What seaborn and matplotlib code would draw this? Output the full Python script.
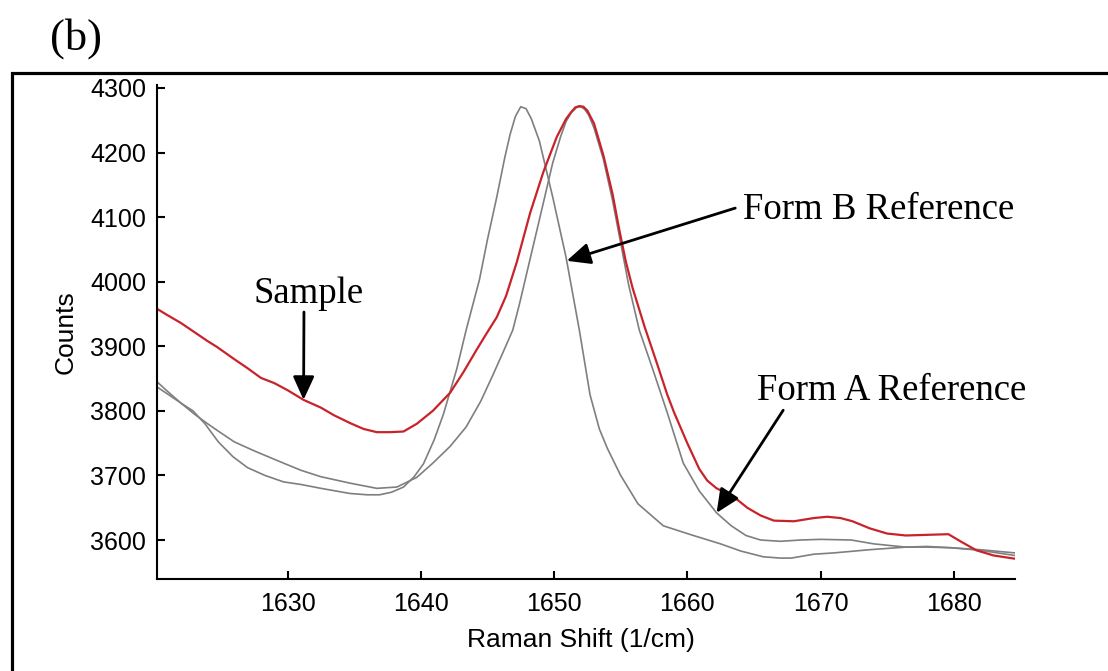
import numpy as np
import pandas as pd
import matplotlib
matplotlib.use("Agg")
import matplotlib.pyplot as plt
from matplotlib.patches import Rectangle
import seaborn as sns

# Raman spectra in the amide/C=O region (shift in 1/cm, intensity in counts)
sample_shift = [1620.2, 1621.0, 1622.0, 1623.0, 1624.0, 1624.7, 1626.0, 1627.0, 1628.0, 1629.0,
                1630.0, 1631.2, 1632.5, 1633.5, 1634.7, 1635.7, 1636.7, 1637.7, 1638.7, 1639.7,
                1640.9, 1642.2, 1643.2, 1644.2, 1645.0, 1645.7, 1646.4, 1647.2, 1648.2, 1649.2,
                1650.2, 1650.9, 1651.3, 1651.6, 1651.9, 1652.2, 1652.5, 1653.0, 1653.7, 1654.4,
                1654.9, 1655.4, 1655.9, 1656.8, 1657.7, 1658.5, 1659.0, 1660.0, 1660.9, 1661.5,
                1662.2, 1663.0, 1663.6, 1664.5, 1665.5, 1666.5, 1668.0, 1669.5, 1670.5, 1671.5,
                1672.4, 1673.7, 1675.0, 1676.4, 1678.0, 1679.6, 1680.5, 1681.7, 1683.0, 1684.6]
sample_counts = [3958, 3948, 3936, 3922, 3908, 3899, 3880, 3866, 3851, 3843,
                 3832, 3817, 3805, 3793, 3781, 3772, 3767, 3767, 3768, 3780,
                 3800, 3828, 3860, 3895, 3922, 3945, 3978, 4030, 4106, 4170,
                 4224, 4252, 4263, 4270, 4272, 4271, 4265, 4245, 4196, 4135,
                 4080, 4030, 3990, 3930, 3875, 3825, 3798, 3750, 3710, 3692,
                 3680, 3672, 3665, 3650, 3638, 3630, 3629, 3634, 3636, 3634,
                 3629, 3618, 3610, 3607, 3608, 3609, 3598, 3584, 3576, 3571]

form_a_shift = [1620.2, 1621.0, 1622.0, 1623.0, 1624.0, 1624.7, 1626.0, 1627.5, 1629.7, 1631.0,
                1632.5, 1634.7, 1636.7, 1638.2, 1639.7, 1640.9, 1642.2, 1643.4, 1644.5, 1645.4,
                1646.2, 1646.9, 1647.4, 1648.2, 1648.9, 1649.9, 1650.5, 1650.9, 1651.3, 1651.7,
                1652.0, 1652.3, 1652.6, 1653.0, 1653.7, 1654.4, 1655.0, 1655.6, 1656.4, 1657.4,
                1658.5, 1659.7, 1660.9, 1662.2, 1663.3, 1664.4, 1665.5, 1667.0, 1668.5, 1670.0,
                1672.3, 1674.0, 1676.4, 1678.0, 1679.8, 1682.0, 1684.6]
form_a_counts = [3845, 3830, 3812, 3795, 3780, 3770, 3752, 3738, 3719, 3708,
                 3698, 3688, 3680, 3682, 3697, 3719, 3745, 3775, 3815, 3855,
                 3892, 3925, 3965, 4035, 4096, 4184, 4225, 4248, 4262, 4270,
                 4271, 4267, 4258, 4238, 4190, 4125, 4060, 3995, 3925, 3865,
                 3797, 3719, 3676, 3642, 3622, 3607, 3600, 3598, 3600, 3601,
                 3600, 3594, 3589, 3589, 3588, 3585, 3580]

form_b_shift = [1620.2, 1621.0, 1622.0, 1622.9, 1623.8, 1624.8, 1625.9, 1627.0, 1628.3, 1629.7,
                1631.0, 1632.5, 1634.7, 1636.0, 1636.9, 1637.8, 1638.7, 1639.5, 1640.2, 1641.0,
                1641.7, 1642.2, 1642.7, 1643.4, 1644.4, 1645.0, 1645.7, 1646.3, 1646.7, 1647.1,
                1647.5, 1647.9, 1648.3, 1648.9, 1649.9, 1650.9, 1651.9, 1652.7, 1653.4, 1654.0,
                1655.0, 1656.3, 1658.2, 1660.3, 1662.5, 1664.0, 1665.7, 1667.0, 1667.8, 1669.5,
                1671.0, 1673.7, 1676.4, 1678.0, 1679.8, 1682.0, 1684.6]
form_b_counts = [3837, 3826, 3812, 3800, 3780, 3752, 3729, 3712, 3700, 3690,
                 3686, 3680, 3672, 3670, 3670, 3674, 3682, 3698, 3718, 3755,
                 3795, 3830, 3865, 3925, 4003, 4065, 4131, 4192, 4228, 4256,
                 4271, 4268, 4252, 4218, 4131, 4038, 3925, 3825, 3772, 3742,
                 3700, 3656, 3622, 3608, 3594, 3583, 3574, 3572, 3572, 3578,
                 3580, 3585, 3589, 3590, 3588, 3584, 3576]

x_ticks = [1630, 1640, 1650, 1660, 1670, 1680]
y_ticks = [3600, 3700, 3800, 3900, 4000, 4100, 4200, 4300]

RED = "#c8232a"
GREY = "#7f7f7f"

frames = [
    pd.DataFrame({"shift": form_a_shift, "counts": form_a_counts, "spectrum": "Form A Reference"}),
    pd.DataFrame({"shift": form_b_shift, "counts": form_b_counts, "spectrum": "Form B Reference"}),
    pd.DataFrame({"shift": sample_shift, "counts": sample_counts, "spectrum": "Sample"}),
]
spectra = pd.concat(frames, ignore_index=True)

sns.set_style("ticks", {"xtick.direction": "in", "ytick.direction": "in",
                        "axes.edgecolor": "black", "text.color": "black",
                        "axes.labelcolor": "black", "xtick.color": "black",
                        "ytick.color": "black"})
plt.rcParams["font.family"] = ["Liberation Sans", "DejaVu Sans"]
plt.rcParams["text.color"] = "black"

fig = plt.figure(figsize=(11.08, 6.71), dpi=100)
ax = fig.add_axes([0.1417, 0.1371, 0.7744, 0.7362])

for name, colour, width in [("Form A Reference", GREY, 1.2),
                            ("Form B Reference", GREY, 1.2),
                            ("Sample", RED, 1.6)]:
    sns.lineplot(data=spectra[spectra["spectrum"] == name], x="shift", y="counts",
                 color=colour, linewidth=width, estimator=None, sort=False,
                 legend=False, ax=ax)

ax.set_xlim(1620.2, 1684.6)
ax.set_ylim(3539.6, 4304.6)
ax.set_xticks(x_ticks)
ax.set_yticks(y_ticks)
ax.set_xticklabels([str(t) for t in x_ticks])
ax.set_yticklabels([str(t) for t in y_ticks])
ax.tick_params(axis="both", direction="in", length=6, width=1.5, labelsize=18,
               colors="black")
ax.tick_params(axis="x", pad=9)
ax.tick_params(axis="y", pad=8)
for side in ("top", "right"):
    ax.spines[side].set_visible(False)
for side in ("left", "bottom"):
    ax.spines[side].set_linewidth(1.5)
    ax.spines[side].set_color("black")

ax.set_xlabel("Raman Shift (1/cm)", fontsize=19, color="black")
ax.set_ylabel("Counts", fontsize=19, color="black")
ax.xaxis.set_label_coords(0.494, -0.099)
ax.yaxis.set_label_coords(-0.092, 0.5)

# callouts naming each spectrum
serif = ["Liberation Serif", "DejaVu Serif"]
arrow = dict(arrowstyle="-|>,head_length=0.55,head_width=0.25", color="black",
             lw=2.0, mutation_scale=26, shrinkA=0, shrinkB=0)

tip_x = 1631.2
ax.annotate("", xy=(tip_x, np.interp(tip_x, sample_shift, sample_counts)),
            xytext=(1631.23, 3953), arrowprops=arrow, annotation_clip=False)
ax.text(1631.6, 3967, "Sample", family=serif, fontsize=26.5, ha="center",
        va="baseline", color="black")

tip_x = 1650.95
ax.annotate("", xy=(tip_x, np.interp(tip_x, form_b_shift, form_b_counts)),
            xytext=(1663.6, 4114), arrowprops=arrow, annotation_clip=False)
ax.text(1664.2, 4097, "Form B Reference", family=serif, fontsize=26.5,
        ha="left", va="baseline", color="black")

tip_x = 1662.2
ax.annotate("", xy=(tip_x, np.interp(tip_x, form_a_shift, form_a_counts)),
            xytext=(1667.2, 3801), arrowprops=arrow, annotation_clip=False)
ax.text(1665.2, 3817, "Form A Reference", family=serif, fontsize=26.5,
        ha="left", va="baseline", color="black")

# panel frame and panel letter
fig.patches.append(Rectangle((0.0104, -0.2), 1.3, 0.8905 + 0.2,
                             transform=fig.transFigure, fill=False,
                             edgecolor="black", linewidth=2.3))
fig.text(50 / 1108, 1 - 50 / 671, "(b)", family=serif, fontsize=32,
         ha="left", va="baseline", color="black")

fig.savefig("out.png", dpi=100, facecolor="white")
